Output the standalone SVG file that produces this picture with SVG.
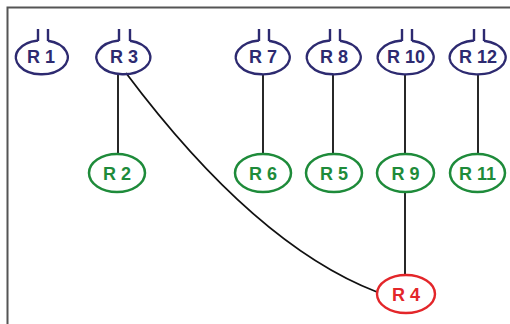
<svg xmlns="http://www.w3.org/2000/svg" width="510" height="324" viewBox="0 0 510 324">
<style>
.b{fill:none;stroke:#2d2a70;stroke-width:2.4}
.g{fill:none;stroke:#1e8b3a;stroke-width:2.5}
.r{fill:none;stroke:#e3262a;stroke-width:2.4}
.t{font-family:"Liberation Sans",Arial,sans-serif;font-weight:bold;font-size:18px;text-anchor:middle}
.tb{fill:#2d2a70}.tg{fill:#1e8b3a}.tr{fill:#e3262a}
.c{fill:none;stroke:#111;stroke-width:1.8}
</style>
<rect width="510" height="324" fill="#fff"/>
<path d="M7.5,324 V7.5 H510" fill="none" stroke="#555" stroke-width="2"/>
<g id="connectors">
<line class="c" x1="118" y1="74" x2="118" y2="154"/>
<path class="c" d="M126,73 Q255,245 377,292"/>
<line class="c" x1="263" y1="74" x2="263" y2="154"/>
<line class="c" x1="333" y1="74" x2="333" y2="154"/>
<line class="c" x1="405" y1="74" x2="405" y2="154"/>
<line class="c" x1="478" y1="74" x2="478" y2="154"/>
<line class="c" x1="405" y1="192" x2="405" y2="275"/>
</g>
<g id="R1"><path class="b" d="M38,40.5 A26,17 0 1 0 48,40.8 M38,29 V41 M48,29 V41"/><text class="t tb" x="41" y="63">R 1</text></g>
<g id="R3"><path class="b" d="M119,40.5 A27,17 0 1 0 130,40.8 M119,29 V41 M130,29 V41"/><text class="t tb" x="124" y="63">R 3</text></g>
<g id="R7"><path class="b" d="M259,40.5 A27,17 0 1 0 269,40.8 M259,29 V41 M269,29 V41"/><text class="t tb" x="263" y="63">R 7</text></g>
<g id="R8"><path class="b" d="M330,40.5 A27,17 0 1 0 340,40.8 M330,29 V41 M340,29 V41"/><text class="t tb" x="334" y="63">R 8</text></g>
<g id="R10"><path class="b" d="M402,40.5 A28,17 0 1 0 412,40.8 M402,29 V41 M412,29 V41"/><text class="t tb" x="406" y="63">R 10</text></g>
<g id="R12"><path class="b" d="M474,40.5 A28,17 0 1 0 484,40.8 M474,29 V41 M484,29 V41"/><text class="t tb" x="478" y="63">R 12</text></g>
<g id="R2"><ellipse class="g" cx="117" cy="173" rx="28" ry="19"/><text class="t tg" x="117" y="180">R 2</text></g>
<g id="R6"><ellipse class="g" cx="263" cy="173" rx="28" ry="19"/><text class="t tg" x="263" y="180">R 6</text></g>
<g id="R5"><ellipse class="g" cx="334" cy="173" rx="28" ry="19"/><text class="t tg" x="334" y="180">R 5</text></g>
<g id="R9"><ellipse class="g" cx="405.5" cy="173" rx="28.5" ry="19"/><text class="t tg" x="405.5" y="180">R 9</text></g>
<g id="R11"><ellipse class="g" cx="477.5" cy="173" rx="27.5" ry="19"/><text class="t tg" x="477.5" y="180">R 11</text></g>
<g id="R4"><ellipse class="r" cx="406" cy="294" rx="29" ry="19"/><text class="t tr" x="406" y="301">R 4</text></g>
</svg>
